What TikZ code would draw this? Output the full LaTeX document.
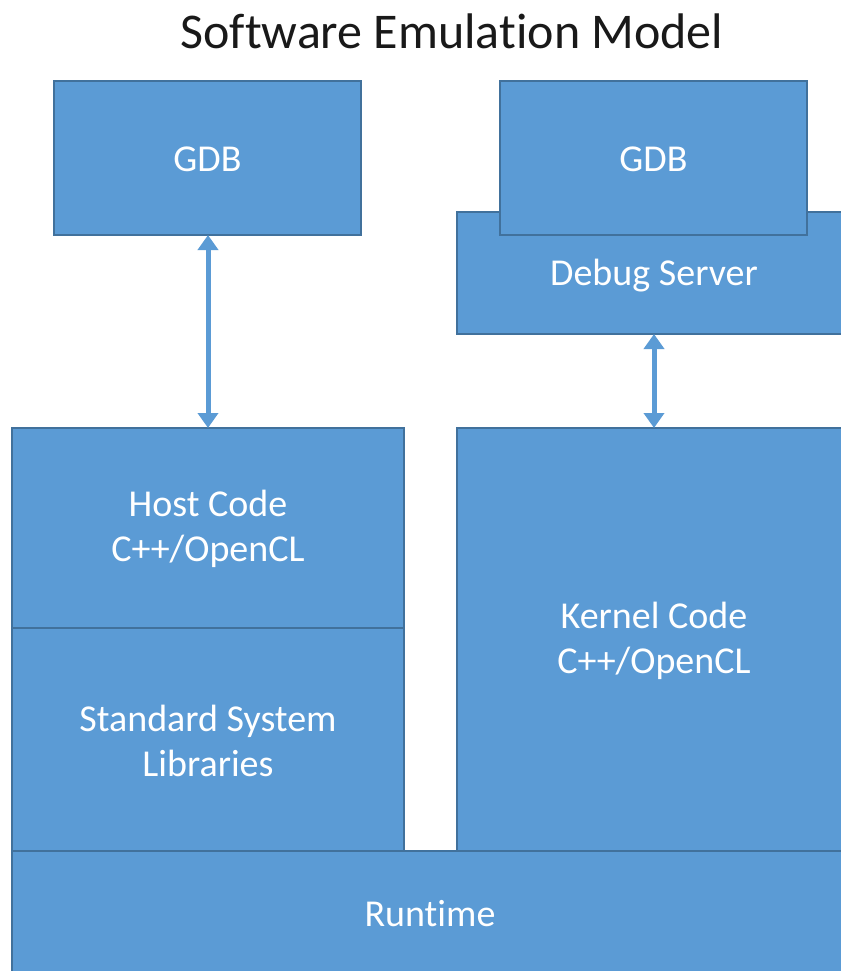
\documentclass[tikz,border=0pt]{standalone}
\usepackage{fontspec}
\setmainfont{Carlito}[Ligatures={NoCommon}]
\usetikzlibrary{arrows.meta}
\definecolor{boxfill}{HTML}{5B9BD5}
\definecolor{boxline}{HTML}{41719C}
\begin{document}
\begin{tikzpicture}[x=1pt,y=-1pt,
  block/.style={draw=boxline, line width=1.1pt, fill=boxfill},
  label/.style={text=white, font=\fontsize{38}{45}\selectfont, align=center},
  link/.style={draw=boxfill, line width=5pt,
    {Triangle[width=20pt,length=15pt]}-{Triangle[width=20pt,length=15pt]}}]
\useasboundingbox (0,0) rectangle (840,971);
\fill[white] (0,0) rectangle (840,971);

% title
\node[font=\fontsize{50}{55}\selectfont, text=black!90] (title) at (452,31) {Software Emulation Model};

% host side
\draw[block] (54,81) rectangle (361,235);
\node[label] (gdbL) at (207.5,159) {GDB};
\coordinate (gdbLb) at (208,235);

\draw[block] (12,428) rectangle (404,628);
\node[label] (host) at (208,529) {Host Code\\C++/OpenCL};
\coordinate (hostT) at (208,428);

\draw[block] (12,628) rectangle (404,851);
\node[label] (libs) at (208,741) {Standard System\\Libraries};

% kernel side
\draw[block] (457,212) rectangle (846,334);
\node[label] (dbg) at (654,276) {Debug Server};
\coordinate (dbgB) at (654,334);

\draw[block] (500,81) rectangle (807,235);
\node[label] (gdbR) at (653.5,159) {GDB};

\draw[block] (457,428) rectangle (846,851);
\node[label] (kern) at (654,641) {Kernel Code\\C++/OpenCL};
\coordinate (kernT) at (654,428);

% shared runtime
\draw[block] (12,851) rectangle (846,977);
\node[label] (rt) at (430,914) {Runtime};

% connectors
\draw[link] (gdbLb) -- (hostT);
\draw[link] (dbgB) -- (kernT);
\end{tikzpicture}
\end{document}
